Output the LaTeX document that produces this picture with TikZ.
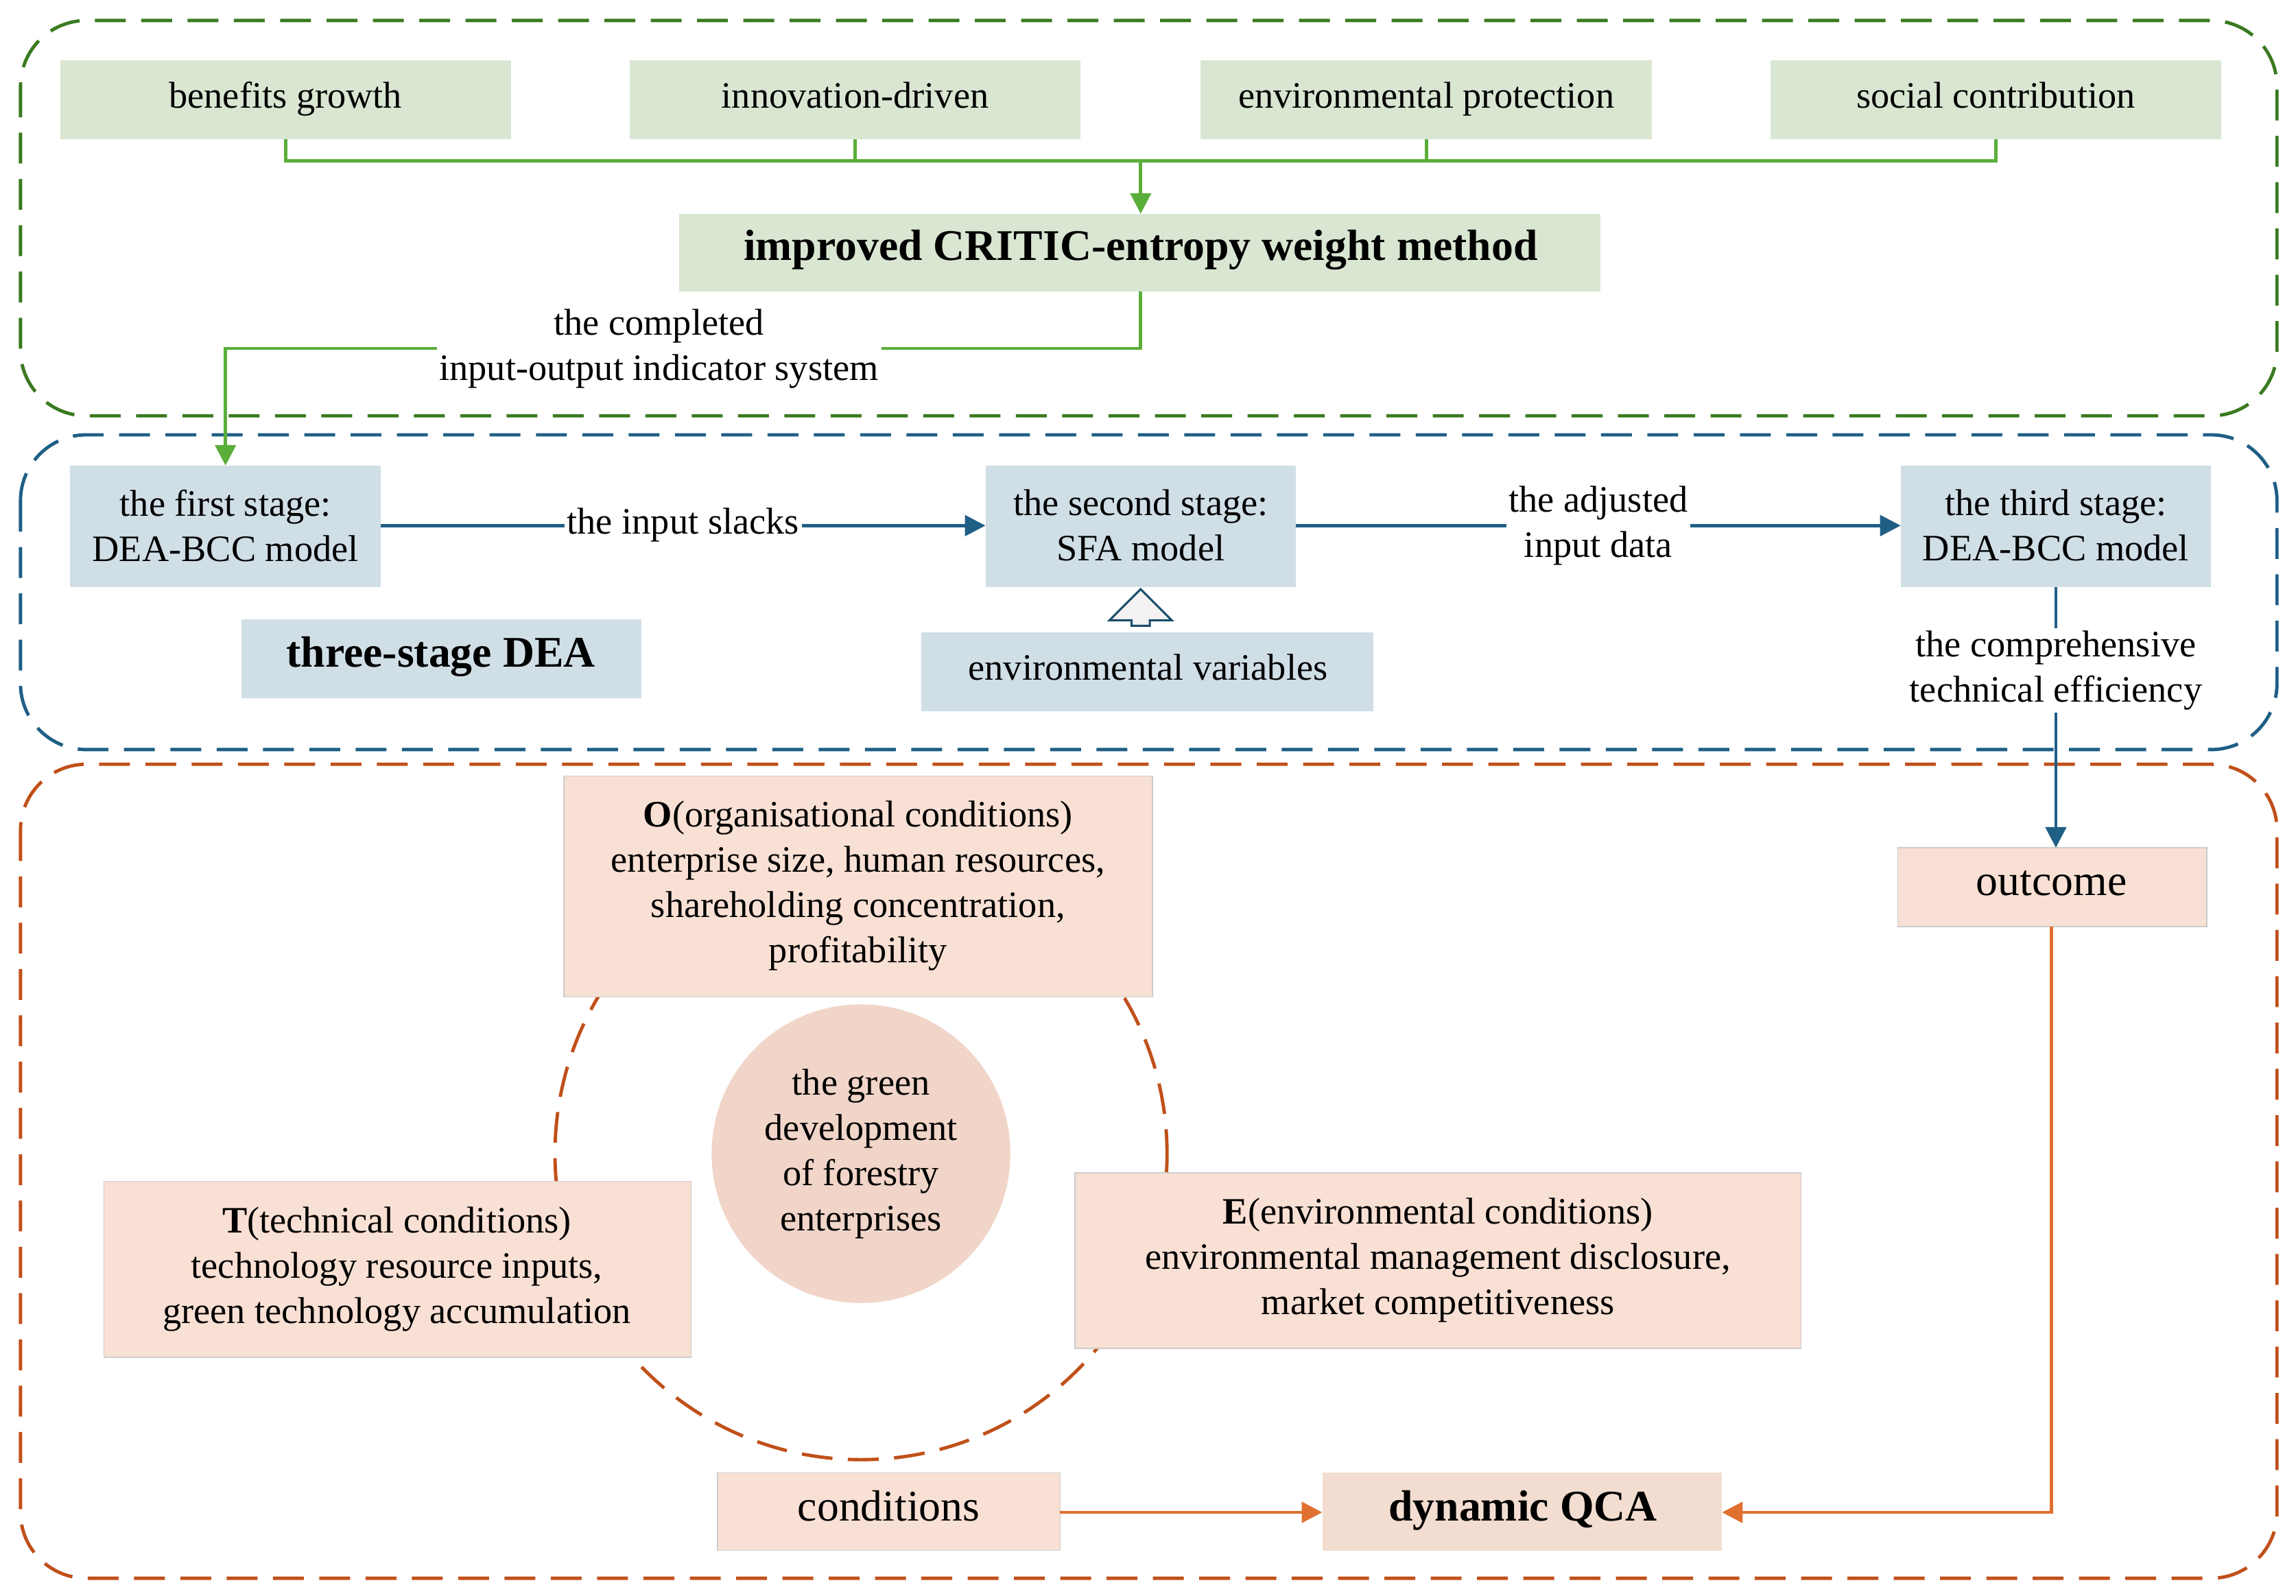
\documentclass[tikz,border=0pt]{standalone}
\usepackage{fontspec}
\setmainfont{Liberation Serif}
\usetikzlibrary{arrows.meta,shapes.arrows}
\definecolor{gfill}{HTML}{D9E6D2}
\definecolor{bfill}{HTML}{D0DEE6}
\definecolor{ofill}{HTML}{F9E0D4}
\definecolor{qfill}{HTML}{F2DDD0}
\definecolor{cfill}{HTML}{F0D5C8}
\definecolor{gline}{HTML}{5AAE3A}
\definecolor{gdash}{HTML}{3A7A20}
\definecolor{bline}{HTML}{1F5F86}
\definecolor{oline}{HTML}{E07030}
\definecolor{odash}{HTML}{C0501A}
\begin{document}
\begin{tikzpicture}[x=0.02cm,y=-0.02cm,font=\fontsize{14.5}{17.6}\selectfont,
 grp/.style={dashed,dash pattern=on 12pt off 6pt,line width=1.3pt,rounded corners=0.9cm},
 box/.style={inner sep=0pt,align=center},
 sbox/.style={inner sep=0pt,text height=10pt,text depth=3.5pt},
 ga/.style={gline,line width=1.3pt,-{Triangle[length=8pt,width=8pt]}},
 gl/.style={gline,line width=1.3pt},
 ba/.style={bline,line width=1.3pt,-{Triangle[length=8pt,width=8pt]}},
 oa/.style={oline,line width=1.3pt,-{Triangle[length=8pt,width=8pt]}},
 lab/.style={fill=white,text=black,align=center,inner sep=1pt}]
\useasboundingbox (0,0) rectangle (1568,1090);
% groups
\draw[grp,gdash] (14,14) rectangle (1555,284);
\draw[grp,bline] (14,297) rectangle (1555,512);
\draw[grp,odash] (14,522) rectangle (1555,1078);
% green
\fill[gfill] (41,41) rectangle (349,95); \node[sbox] (g1) at (195,68) {benefits growth};
\fill[gfill] (430,41) rectangle (738,95); \node[sbox] (g2) at (584,68) {innovation-driven};
\fill[gfill] (820,41) rectangle (1128,95); \node[sbox] (g3) at (974,68) {environmental protection};
\fill[gfill] (1209,41) rectangle (1517,95); \node[sbox] (g4) at (1363,68) {social contribution};
\fill[gfill] (464,146) rectangle (1093,199); \node[sbox,font=\fontsize{17}{20}\selectfont\bfseries] (cr) at (779,172) {improved CRITIC-entropy weight method};
\coordinate (g1b) at (195,95); \coordinate (g2b) at (584,95); \coordinate (g3b) at (974,95); \coordinate (g4b) at (1363,95);
\draw[gl] (g1b) -- (195,110) -- (1363,110) -- (g4b);
\draw[gl] (g2b) -- (584,110); \draw[gl] (g3b) -- (974,110);
\coordinate (crt) at (779,146); \coordinate (crb) at (779,199);
\draw[ga] (779,110) -- (crt);
% blue
\fill[bfill] (48,318) rectangle (260,401); \node[box] (s1) at (154,359) {the first stage:\\DEA-BCC model};
\fill[bfill] (673,318) rectangle (885,401); \node[box] (s2) at (779,359) {the second stage:\\SFA model};
\fill[bfill] (1298,318) rectangle (1510,401); \node[box] (s3) at (1404,359) {the third stage:\\DEA-BCC model};
\fill[bfill] (165,423) rectangle (438,477); \node[sbox,font=\fontsize{17}{20}\selectfont\bfseries] (td) at (301,450) {three-stage DEA};
\fill[bfill] (629,432) rectangle (938,486); \node[sbox] (ev) at (784,459) {environmental variables};
\coordinate (s1t) at (154,318);
\draw[ga] (crb) -- (779,238) -- (154,238) -- (s1t);
\node[lab] at (450,238) {the completed\\input-output indicator system};
\coordinate (s1r) at (260,359); \coordinate (s2l) at (673,359); \coordinate (s2r) at (885,359); \coordinate (s3l) at (1298,359);
\draw[ba] (s1r) -- node[lab,text height=10pt,text depth=3.5pt]{the input slacks} (s2l);
\draw[ba] (s2r) -- node[lab]{the adjusted\\input data} (s3l);
\node[single arrow,draw=bline!80!black,fill=gray!10,shape border rotate=90,minimum height=0.5cm,minimum width=0.85cm,single arrow head extend=0.12cm,inner sep=1pt,line width=0.8pt] (ua) at (779,418) {};
% orange
\draw[odash,dashed,dash pattern=on 12pt off 6pt,line width=1.3pt] (588,788) circle (209);
\fill[cfill] (588,788) circle (102);
\node[box] (gd) at (588,788) {the green\\development\\of forestry\\enterprises};
\fill[ofill,draw=gray!40] (385,530) rectangle (787,681); \node[box] (o) at (586,605) {\textbf{O}(organisational conditions)\\enterprise size, human resources,\\shareholding concentration,\\profitability};
\fill[ofill,draw=gray!40] (71,807) rectangle (472,927); \node[box] (t) at (271,867) {\textbf{T}(technical conditions)\\technology resource inputs,\\green technology accumulation};
\fill[ofill,draw=gray!40] (734,801) rectangle (1230,921); \node[box] (e) at (982,861) {\textbf{E}(environmental conditions)\\environmental management disclosure,\\market competitiveness};
\fill[ofill,draw=gray!40] (1296,579) rectangle (1507,633); \node[sbox,font=\fontsize{17}{20}\selectfont] (out) at (1401,606) {outcome};
\fill[ofill,draw=gray!40] (490,1006) rectangle (724,1059); \node[sbox,font=\fontsize{17}{20}\selectfont] (cond) at (607,1033) {conditions};
\fill[qfill] (903,1006) rectangle (1176,1059); \node[sbox,font=\fontsize{17}{20}\selectfont\bfseries] (qca) at (1040,1033) {dynamic QCA};
\coordinate (s3b) at (1404,401); \coordinate (outt) at (1404,579);
\draw[ba] (s3b) -- node[lab,pos=0.32]{the comprehensive\\technical efficiency} (outt);
\coordinate (outb) at (1401,633); \coordinate (condr) at (724,1033); \coordinate (qcal) at (903,1033); \coordinate (qcar) at (1176,1033);
\draw[oa] (condr) -- (qcal);
\draw[oa] (outb) -- (1401,1033) -- (qcar);
\end{tikzpicture}
\end{document}
